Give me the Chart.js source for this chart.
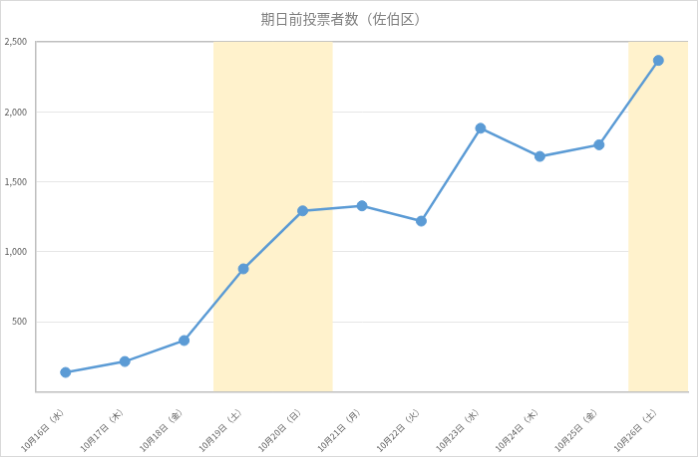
<!DOCTYPE html>
<html>
<head>
<meta charset="utf-8">
<script src="https://cdn.jsdelivr.net/npm/chart.js@4/dist/chart.umd.min.js"></script>
<style>
  body { margin: 0; background: #fff; }
  #grafico { display: block; border: 1px solid #d9d9d9; }
</style>
</head>
<body>
<canvas id="grafico" width="698" height="457"></canvas>
<script>
// 期日前投票者数（佐伯区）
const dias = ['10月16日（水）', '10月17日（木）', '10月18日（金）', '10月19日（土）', '10月20日（日）',
  '10月21日（月）', '10月22日（火）', '10月23日（水）', '10月24日（木）', '10月25日（金）', '10月26日（土）'];
const votantes = [137, 215, 365, 877, 1291, 1327, 1218, 1881, 1680, 1763, 2366];
const fimDeSemana = [false, false, false, true, true, false, false, false, false, false, true];
const yTicks = [0, 500, 1000, 1500, 2000, 2500];

const yMax = yTicks[yTicks.length - 1];
const faixa = fimDeSemana.map(f => f ? yMax : null);

const fonte = '"Noto Sans CJK JP", "Noto Sans", sans-serif';
const cinza = '#595959';

new Chart(document.getElementById('grafico').getContext('2d'), {
  type: 'bar',
  data: {
    labels: dias,
    datasets: [
      {
        type: 'line',
        label: '投票者数',
        data: votantes,
        borderColor: '#5B9BD5',
        backgroundColor: '#5B9BD5',
        borderWidth: 2.5,
        pointRadius: 5,
        pointBorderWidth: 1,
        pointBackgroundColor: '#5B9BD5',
        pointBorderColor: '#5B9BD5',
        tension: 0,
        order: 0
      },
      {
        label: '土日',
        data: faixa,
        backgroundColor: '#FFF2CC',
        borderWidth: 0,
        barPercentage: 1,
        categoryPercentage: 1,
        order: 1
      }
    ]
  },
  options: {
    responsive: false,
    animation: false,
    layout: { padding: { left: 0, right: 9, top: 0, bottom: 0 } },
    plugins: {
      legend: { display: false },
      tooltip: { enabled: false },
      title: {
        display: true,
        text: '期日前投票者数（佐伯区）',
        color: '#7f7f7f',
        font: { family: fonte, size: 14, weight: 'normal' },
        padding: { top: 9, bottom: 15 }
      }
    },
    scales: {
      x: {
        z: 1,
        grid: { display: false },
        border: { display: true, color: '#bfbfbf', width: 1.5 },
        ticks: {
          color: cinza,
          font: { family: fonte, size: 8.5 },
          maxRotation: 45,
          minRotation: 45,
          padding: 4,
          autoSkip: false
        },
        afterFit: s => { s.height = 64.7; }
      },
      y: {
        min: 0,
        max: yMax,
        afterBuildTicks: s => { s.ticks = yTicks.map(v => ({ value: v })); },
        grid: {
          drawTicks: false,
          color: ctx => ctx.tick && ctx.tick.value === yMax ? '#bfbfbf' : '#e6e6e6',
          lineWidth: ctx => ctx.tick && ctx.tick.value === yMax ? 1.5 : 1
        },
        border: { display: true, color: '#bfbfbf', width: 1.5 },
        ticks: {
          color: cinza,
          font: { family: fonte, size: 9 },
          padding: 9,
          callback: v => v === 0 ? '' : v.toLocaleString('en-US')
        },
        afterFit: s => { s.width = 35; }
      }
    }
  }
});
</script>
</body>
</html>
